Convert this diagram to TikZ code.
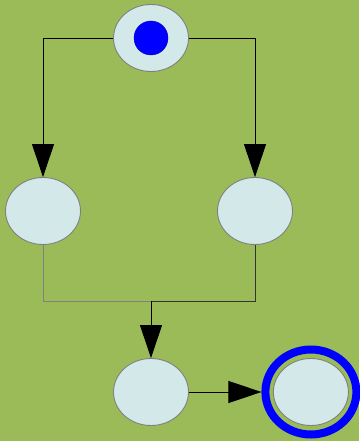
\documentclass[tikz,border=0pt]{standalone}
\usepackage{tikz}
\usetikzlibrary{arrows.meta,shapes.geometric,positioning}
\usepackage{xcolor}
\definecolor{pnbg}{RGB}{155,187,89}
\definecolor{pnfill}{RGB}{211,232,232}
\definecolor{pnedge}{RGB}{128,128,128}
\definecolor{pnblue}{RGB}{0,0,255}
\tikzstyle{place} = [ellipse, minimum width=75pt, minimum height=67pt, inner sep=0pt, draw=pnedge, fill=pnfill, line width=0.9pt]
\tikzstyle{token} = [circle, minimum size=34pt, inner sep=0pt, fill=pnblue, draw=blue!70!black, line width=0.4pt]
\tikzstyle{ring} = [ellipse, minimum width=91pt, minimum height=85pt, inner sep=0pt, draw=pnblue, line width=8pt]
\tikzstyle{link} = [line width=0.8pt, color=black]
\tikzstyle{arrow} = [link, -{Triangle[length=33pt,width=22pt]}]

\begin{document}
\begin{tikzpicture}[x=1pt, y=-1pt]
\fill[pnbg] (0,0) rectangle (359,441);
\useasboundingbox (0,0) rectangle (359,441);

% places
\node[place] (start) at (151,38) {};
\node[token] (dot) at (start) {};
\node[place] (left) at (43,211) {};
\node[place] (right) at (255,211) {};
\node[place] (merge) at (151,392) {};
\node[place, right=84pt of merge] (final) {};
\node[ring] (finalring) at (final) {};

\coordinate (join) at (151,301);

% split
\draw[arrow] (start.west) -| (left.north);
\draw[arrow] (start.east) -| (right.north);

% join
\draw[link, color=pnedge] (left.south) |- (join);
\draw[link, color=black!80] (right.south) |- (join);
\draw[arrow] (join) -- (merge.north);
\draw[arrow] (merge.east) -- (finalring.west);
\end{tikzpicture}
\end{document}
